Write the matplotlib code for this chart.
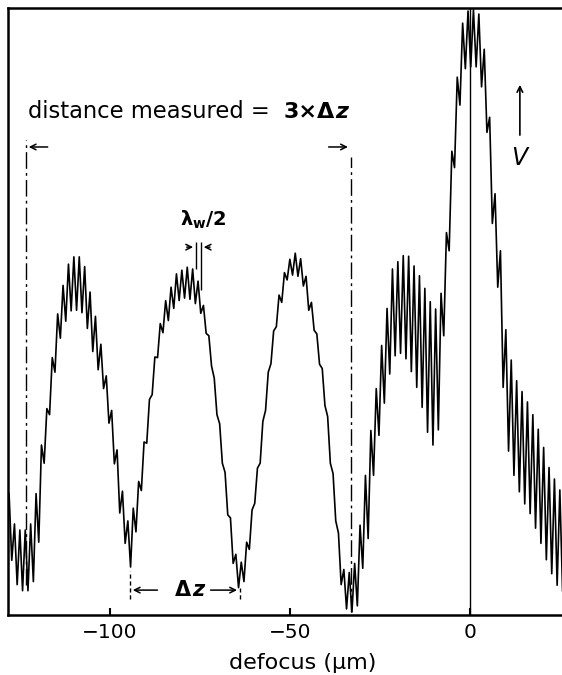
import numpy as np
import matplotlib
matplotlib.use("Agg")
from matplotlib import pyplot as plt

# fringe crests (upper) and troughs (lower) of the detector signal
# samples every lambda_w/2 ~ 1.5 um, troughs sit half a step to the right
x_start, x_step = -128.0, 1.5
upper = [20, 15, 14, 14, 15, 20, 28, 34, 42.4, 49.6,
         54.3, 57.8, 59, 59, 57.4, 53.2, 49.2, 44.6, 39.4, 33.7,
         27.2, 20.4, 15.5, 17.6, 22, 28.5, 35.5, 42.5, 48, 51.8,
         54, 56.2, 56.8, 57.3, 57, 55, 51, 46, 39, 31.5,
         23.5, 16, 10, 8.7, 12, 17.3, 24.2, 31.9, 40, 46.8,
         52.7, 56.4, 58.6, 59.6, 58.7, 55.8, 51.5, 46.3, 40.6, 32.7,
         23.3, 13.5, 7.5, 7, 8.5, 14.8, 23, 30.4, 37.3, 44.4,
         50.5, 57, 58.2, 59.2, 59.1, 57.5, 55.9, 53.8, 51.6, 50.4,
         53, 63, 76.4, 88.6, 97.5, 99.5, 99.7, 99, 93.2, 82,
         69.4, 60, 47, 42, 38.6, 36.8, 35.1, 33, 30.6, 27.6,
         24.3, 22.4, 20.6]
lower = [9, 5, 4, 4, 5.5, 12, 25, 33, 40, 45.6,
         48.4, 50.1, 50.2, 49.8, 47.2, 43.4, 40.4, 37.3, 31.6, 24.9,
         16.8, 11.8, 7.9, 13.7, 20.5, 28.3, 36.3, 42.4, 46.5, 48.5,
         50.5, 51.8, 52.2, 52, 51.3, 49.7, 46.4, 41, 33, 25,
         16.5, 8.5, 4.5, 5.5, 10.8, 18.4, 25, 33.7, 41.4, 47.5,
         51.5, 55.2, 56, 55.8, 54.2, 50.2, 46.9, 41.3, 34.5, 25,
         15.5, 5, 1, 0.5, 1.5, 7.7, 12.6, 23, 29.6, 34.9,
         39.7, 42.7, 43.1, 42.2, 40.1, 37.5, 34.2, 30.1, 28, 30.5,
         46, 60, 73.7, 84, 90, 90.3, 90.3, 87, 79.5, 64.5,
         54, 37.5, 27, 23, 20.3, 18.3, 16.7, 14.3, 11.8, 9.1,
         6.8, 4.9, 4]

# marked features (um)
measure_left, measure_right = -123.3, -33.1
dz_left, dz_right = -94.4, -63.9
lam_left, lam_right = -76.1, -74.7
xticks = [-100, -50, 0]

xs = x_start + x_step * np.arange(len(upper))
tx = np.column_stack([xs, xs + x_step / 2]).ravel()
ty = np.column_stack([upper, lower]).ravel()

plt.rcParams['font.family'] = ['DejaVu Sans']
fig = plt.figure(figsize=(5.62, 6.75), dpi=100)
ax = fig.add_axes([0.0142, 0.0889, 0.9858, 0.8993])

ax.plot(tx, ty, color='k', lw=1.2)
ax.axvline(0, color='k', lw=1.0)

# distance measured markers
ax.vlines(measure_left, 5, 78.3, color='k', lw=1.0, linestyles=(0, (12, 3, 2, 3)))
ax.vlines(measure_right, 0.5, 75.5, color='k', lw=1.0, linestyles=(0, (12, 3, 2, 3)))
ax.annotate('', xy=(measure_left, 77.1), xytext=(-116.5, 77.1),
            arrowprops=dict(arrowstyle='->', lw=1.1, color='k'))
ax.annotate('', xy=(measure_right, 77.1), xytext=(-40, 77.1),
            arrowprops=dict(arrowstyle='->', lw=1.1, color='k'))
ax.text(-122.8, 82.9, 'distance measured =', fontsize=16.3, ha='left', va='center')
ax.text(-51.7, 82.9, '3×Δ', fontsize=16, fontweight='bold', ha='left', va='center')
ax.text(-37.3, 82.9, 'z', fontsize=16, fontweight='bold', style='italic',
        ha='left', va='center')

# lambda_w / 2
ax.vlines(lam_left, 57, 61.5, color='k', lw=1.0)
ax.vlines(lam_right, 53.5, 61.5, color='k', lw=1.0)
ax.annotate('', xy=(lam_left, 60.6), xytext=(-79.4, 60.6),
            arrowprops=dict(arrowstyle='->', lw=1.1, color='k'))
ax.annotate('', xy=(lam_right, 60.6), xytext=(-71.4, 60.6),
            arrowprops=dict(arrowstyle='->', lw=1.1, color='k'))
ax.text(-74.2, 65.1, r'λ$_\mathregular{w}$/2', fontsize=14, fontweight='bold',
        ha='center', va='center')

# delta z
ax.vlines(dz_left, 2.6, 7.2, color='k', lw=1.0, linestyles=(0, (3, 2)))
ax.vlines(dz_right, 2.6, 4.5, color='k', lw=1.0, linestyles=(0, (3, 2)))
ax.annotate('', xy=(dz_left, 4.1), xytext=(-86.0, 4.1),
            arrowprops=dict(arrowstyle='->', lw=1.1, color='k'))
ax.annotate('', xy=(dz_right, 4.1), xytext=(-72.8, 4.1),
            arrowprops=dict(arrowstyle='->', lw=1.1, color='k'))
ax.text(-81.8, 4.1, 'Δ', fontsize=15, fontweight='bold', ha='left', va='center')
ax.text(-77.0, 4.1, 'z', fontsize=15, fontweight='bold', style='italic',
        ha='left', va='center')

# V scale arrow
ax.annotate('', xy=(13.9, 87.8), xytext=(13.9, 78.6),
            arrowprops=dict(arrowstyle='->', lw=1.2, color='k'))
ax.text(13.6, 75.3, 'V', fontsize=17, style='italic', ha='center', va='center')

ax.set_xlim(-128.3, 25.6)
ax.set_ylim(0, 100)
ax.set_xticks(xticks)
ax.set_yticks([])
ax.tick_params(axis='x', direction='in', length=5, width=1.5, labelsize=14.5, pad=6)
ax.spines['right'].set_visible(False)
for s in ['left', 'bottom', 'top']:
    ax.spines[s].set_linewidth(1.8)

fig.text(303 / 562, 1 - 663 / 675, 'defocus (μm)', fontsize=16, ha='center', va='center')

fig.savefig('out.png', dpi=100)
